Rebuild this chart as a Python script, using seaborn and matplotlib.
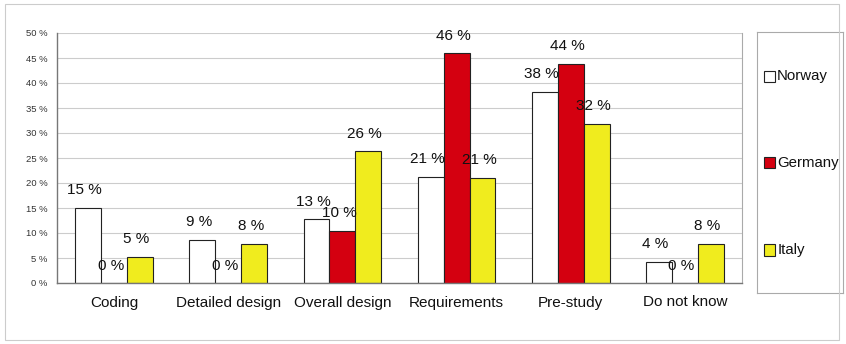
import matplotlib
matplotlib.use("Agg")
import matplotlib.pyplot as plt
import seaborn as sns
import pandas as pd
import numpy as np
from matplotlib.patches import Rectangle

categories = ["Coding", "Detailed design", "Overall design", "Requirements", "Pre-study", "Do not know"]
countries = ["Norway", "Germany", "Italy"]
norway = [15.0, 8.7, 12.8, 21.3, 38.3, 4.3]
germany = [0.0, 0.0, 10.5, 46.0, 43.8, 0.0]
italy = [5.3, 7.8, 26.4, 21.0, 31.8, 7.8]
norway_labels = ["15 %", "9 %", "13 %", "21 %", "38 %", "4 %"]
germany_labels = ["0 %", "0 %", "10 %", "46 %", "44 %", "0 %"]
italy_labels = ["5 %", "8 %", "26 %", "21 %", "32 %", "8 %"]
colors = ["#ffffff", "#d40010", "#f0ec1e"]
yticks = [0, 5, 10, 15, 20, 25, 30, 35, 40, 45, 50]

sns.set_theme(style="white")
plt.rcParams['font.family'] = ['Liberation Sans', 'DejaVu Sans']

rows = []
for c, vals in zip(countries, [norway, germany, italy]):
    for cat, v in zip(categories, vals):
        rows.append({"category": cat, "country": c, "value": v})
df = pd.DataFrame(rows)

fig = plt.figure(figsize=(8.46, 3.44), dpi=100)
ax = fig.add_axes([57/846, 1 - 283/344, 685/846, 250/344])

sns.barplot(data=df, x="category", y="value", hue="country", order=categories,
            hue_order=countries, palette=colors, width=0.68, edgecolor="#222222",
            linewidth=0.8, ax=ax, legend=False, saturation=1)

ax.set_ylim(0, 50)
ax.set_xlim(-0.5, len(categories) - 0.5)
ax.set_yticks(yticks)
ax.set_yticklabels([f"{t} %" for t in yticks], fontsize=6.8, color="#333333")
ax.yaxis.grid(True, color="#cccccc", linewidth=0.8)
ax.set_axisbelow(True)
ax.set_xlabel("")
ax.set_ylabel("")
ax.tick_params(axis="x", which="major", length=0, labelsize=11, pad=9, colors="#111111")
ax.set_xticks(np.arange(len(categories)) + 0.5, minor=True)
ax.tick_params(axis="x", which="minor", length=4, color="#888888", direction="out")
ax.tick_params(axis="y", length=4, color="#888888", direction="out", pad=3)
for s in ["left", "bottom"]:
    ax.spines[s].set_color("#777777")
    ax.spines[s].set_linewidth(1)
ax.spines["top"].set_visible(False)
ax.spines["right"].set_color("#aaaaaa")
ax.spines["right"].set_linewidth(0.8)

all_labels = [norway_labels, germany_labels, italy_labels]
for container, labels in zip(ax.containers, all_labels):
    for bar, lab in zip(container, labels):
        x = bar.get_x() + bar.get_width() / 2
        h = bar.get_height()
        ax.text(x - 0.03, h + 2.1, lab, ha="center", va="bottom", fontsize=11, color="#111111")

# legend box
lax = fig.add_axes([757/846, 1 - 293/344, 86/846, 261/344])
lax.set_xlim(0, 1)
lax.set_ylim(0, 1)
lax.set_xticks([])
lax.set_yticks([])
for s in lax.spines.values():
    s.set_color("#aaaaaa")
    s.set_linewidth(0.8)
leg_y = [0.83, 0.50, 0.165]
for c, col, yy in zip(countries, colors, leg_y):
    lax.add_patch(Rectangle((0.08, yy - 0.022), 0.13, 0.044, facecolor=col, edgecolor="#222222", linewidth=0.8))
    lax.text(0.235, yy, c, va="center", ha="left", fontsize=10.8, color="#111111")

fig.patches.append(Rectangle((5/846, 4/344), 834/846, 336/344, transform=fig.transFigure,
                             fill=False, edgecolor="#cccccc", linewidth=0.8))

fig.savefig("out.png", dpi=100)
